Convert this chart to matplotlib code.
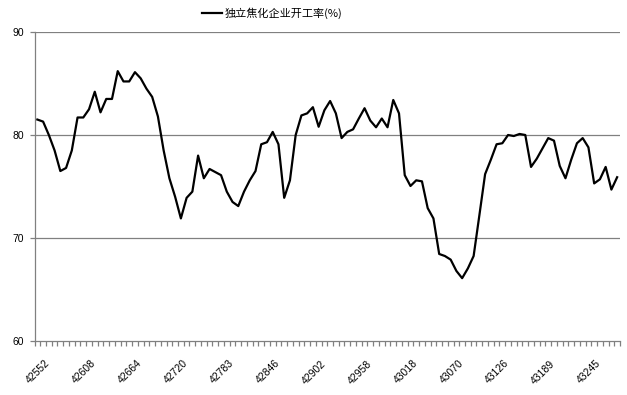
import matplotlib
matplotlib.use("Agg")
import matplotlib.pyplot as plt
import matplotlib.transforms as mtransforms
import numpy as np

plt.rcParams['font.family'] = ['Liberation Sans', 'Noto Sans CJK SC', 'DejaVu Sans']

series_name = "独立焦化企业开工率(%)"
values = [81.5, 81.3, 80.0, 78.5, 76.5, 76.8, 78.5, 81.7, 81.7, 82.5,
          84.2, 82.2, 83.5, 83.5, 86.2, 85.2, 85.2, 86.1, 85.5, 84.5,
          83.7, 81.8, 78.5, 75.8, 74.0, 71.9, 73.9, 74.5, 78.0, 75.8,
          76.7, 76.4, 76.1, 74.5, 73.5, 73.1, 74.5, 75.6, 76.5, 79.1,
          79.3, 80.3, 79.1, 73.9, 75.6, 80.0, 81.9, 82.1, 82.7, 80.8,
          82.4, 83.3, 82.1, 79.7, 80.3, 80.55, 81.6, 82.6, 81.4, 80.75,
          81.6, 80.75, 83.4, 82.1, 76.1, 75.05, 75.6, 75.5, 72.9, 71.9,
          68.45, 68.25, 67.9, 66.8, 66.1, 67.05, 68.25, 72.2, 76.2, 77.6,
          79.1, 79.2, 80.0, 79.9, 80.1, 80.0, 76.9, 77.7, 78.7, 79.7,
          79.45, 77.0, 75.8, 77.6, 79.2, 79.7, 78.8, 75.3, 75.7, 76.9,
          74.7, 75.9]
tick_labels = ["42552", "42608", "42664", "42720", "42783", "42846", "42902",
               "42958", "43018", "43070", "43126", "43189", "43245"]
label_step = 8
y_ticks = [60, 70, 80, 90]

n = len(values)
x = np.arange(n)

fig = plt.figure(figsize=(6.27, 3.95), dpi=100)
ax = fig.add_axes([34.5/627, 1-341/395, (620-34.5)/627, (341-32)/395])

for yv in y_ticks[1:]:
    ax.axhline(yv, color='#808080', lw=0.9, zorder=1)

ax.plot(x, values, color='black', lw=1.6, zorder=3, label=series_name)

ax.set_xlim(-0.5, n - 0.5)
ax.set_ylim(60, 90)
ax.set_yticks(y_ticks)
ax.set_yticklabels([str(v) for v in y_ticks], fontsize=7.5)
ax.tick_params(axis='y', length=3.5, width=0.9, color='#808080', pad=4)

ax.set_xticks(x[::label_step][:len(tick_labels)])
ax.set_xticklabels(tick_labels, rotation=45, ha='right', va='center',
                   rotation_mode='anchor', fontsize=7.5)
ax.tick_params(axis='x', which='major', length=0, pad=15)
ax.set_xticks(np.arange(-0.5, n, 1.0), minor=True)
ax.tick_params(axis='x', which='minor', length=3.5, width=0.9, color='#808080')
offset = mtransforms.ScaledTranslation(11/100, 0, fig.dpi_scale_trans)
for lab in ax.get_xticklabels():
    lab.set_transform(lab.get_transform() + offset)

for s in ['top', 'right']:
    ax.spines[s].set_visible(False)
for s in ['left', 'bottom']:
    ax.spines[s].set_color('#808080')
    ax.spines[s].set_linewidth(0.9)

leg = fig.legend(loc='center', bbox_to_anchor=(272/627, 1-13/395), frameon=False,
                 handlelength=1.8, handletextpad=0.2,
                 prop={'family': ['Noto Sans CJK SC', 'DejaVu Sans'], 'size': 8})

fig.savefig("out.png", dpi=100)
